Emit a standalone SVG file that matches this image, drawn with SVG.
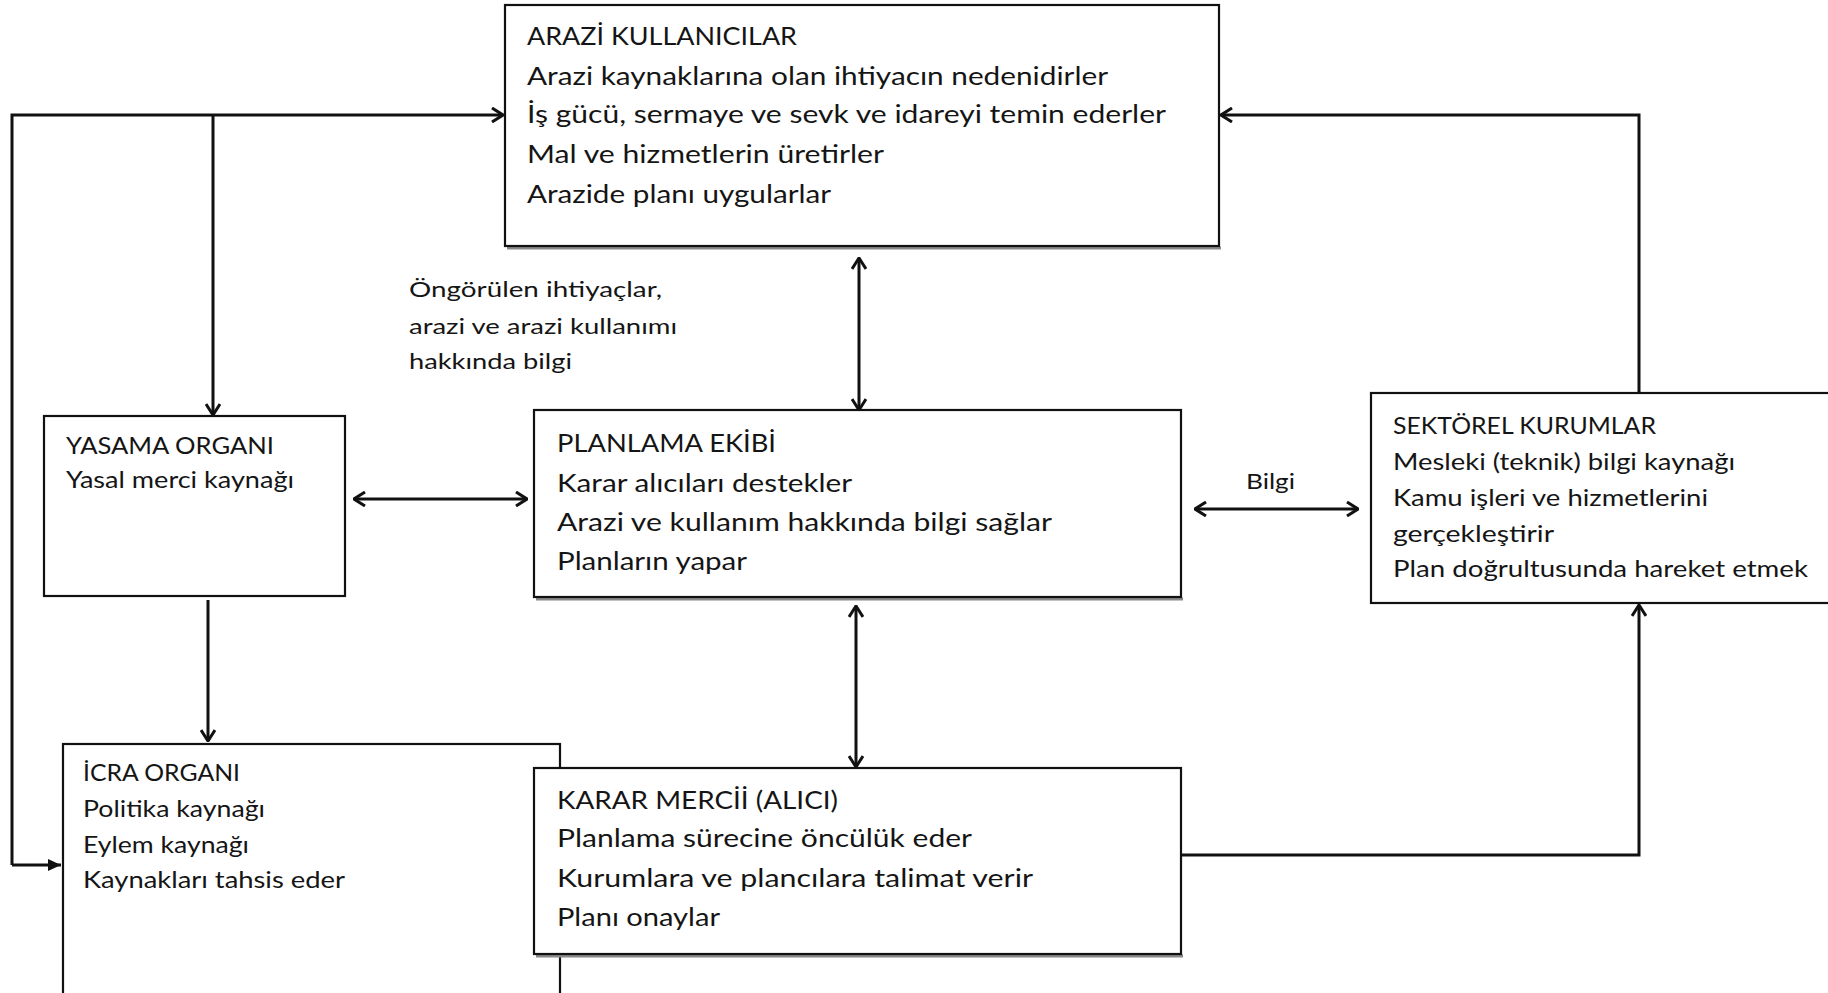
<svg xmlns="http://www.w3.org/2000/svg" width="1828" height="993" viewBox="0 0 1828 993">
<style>
.box{fill:#fff;stroke:#111;stroke-width:2.2}
.shadow{fill:none;stroke:#888;stroke-width:3}
.t{font-family:Lato,"Open Sans","DejaVu Sans",sans-serif;fill:#151515;font-size:25px}
.s{font-size:23px}
.l{font-size:22px}
.c{fill:none;stroke:#111;stroke-width:3}
</style>
<defs>
<marker id="ah" viewBox="0 0 14 16" refX="13" refY="8" markerWidth="14" markerHeight="16" markerUnits="userSpaceOnUse" orient="auto-start-reverse">
<path d="M2,1 L13,8 L2,15" fill="none" stroke="#111" stroke-width="3"/>
</marker>
<marker id="af" viewBox="0 0 14 14" refX="13" refY="7" markerWidth="14" markerHeight="14" markerUnits="userSpaceOnUse" orient="auto">
<path d="M0,1 L13,7 L0,13 Z" fill="#111"/>
</marker>
</defs>
<rect width="1828" height="993" fill="#fff"/>

<g id="connectors">
<path class="c" d="M12,865 L12,115 L503,115" marker-end="url(#ah)"/>
<path class="c" d="M12,865 L61,865" marker-end="url(#af)"/>
<path class="c" d="M213,115 L213,415" marker-end="url(#ah)"/>
<path class="c" d="M208,600 L208,741" marker-end="url(#ah)"/>
<path class="c" d="M354,499 L527,499" marker-start="url(#ah)" marker-end="url(#ah)"/>
<path class="c" d="M859,258 L859,410" marker-start="url(#ah)" marker-end="url(#ah)"/>
<path class="c" d="M856,606 L856,767" marker-start="url(#ah)" marker-end="url(#ah)"/>
<path class="c" d="M1195,509 L1358,509" marker-start="url(#ah)" marker-end="url(#ah)"/>
<path class="c" d="M1639,393 L1639,115 L1221,115" marker-end="url(#ah)"/>
<path class="c" d="M1181,855 L1639,855 L1639,605" marker-end="url(#ah)"/>
<text class="t l" x="1246" y="489" textLength="49" lengthAdjust="spacingAndGlyphs">Bilgi</text>
<g id="label-ongorulen">
<text class="t l" x="409" y="297" textLength="253" lengthAdjust="spacingAndGlyphs">Öngörülen ihtiyaçlar,</text>
<text class="t l" x="409" y="334" textLength="268" lengthAdjust="spacingAndGlyphs">arazi ve arazi kullanımı</text>
<text class="t l" x="409" y="369" textLength="163" lengthAdjust="spacingAndGlyphs">hakkında bilgi</text>
</g>
</g>

<g id="arazi">
<line class="shadow" x1="507" y1="248" x2="1221" y2="248"/>
<rect class="box" x="505" y="5" width="714" height="241"/>
<text class="t" x="527" y="45" textLength="270" lengthAdjust="spacingAndGlyphs">ARAZİ KULLANICILAR</text>
<text class="t" x="527" y="85" textLength="581" lengthAdjust="spacingAndGlyphs">Arazi kaynaklarına  olan ihtiyacın nedenidirler</text>
<text class="t" x="527" y="123" textLength="639" lengthAdjust="spacingAndGlyphs">İş gücü, sermaye ve sevk ve idareyi temin ederler</text>
<text class="t" x="527" y="163" textLength="357" lengthAdjust="spacingAndGlyphs">Mal ve hizmetlerin üretirler</text>
<text class="t" x="527" y="203" textLength="304" lengthAdjust="spacingAndGlyphs">Arazide planı uygularlar</text>
</g>

<g id="yasama">
<rect class="box" x="44" y="416" width="301" height="180"/>
<text class="t s" x="66" y="454" textLength="208" lengthAdjust="spacingAndGlyphs">YASAMA ORGANI</text>
<text class="t s" x="66" y="488" textLength="228" lengthAdjust="spacingAndGlyphs">Yasal merci kaynağı</text>
</g>

<g id="planlama">
<line class="shadow" x1="536" y1="599" x2="1183" y2="599"/>
<rect class="box" x="534" y="410" width="647" height="187"/>
<text class="t" x="557" y="452" textLength="219" lengthAdjust="spacingAndGlyphs">PLANLAMA EKİBİ</text>
<text class="t" x="557" y="492" textLength="295" lengthAdjust="spacingAndGlyphs">Karar alıcıları destekler</text>
<text class="t" x="557" y="531" textLength="495" lengthAdjust="spacingAndGlyphs">Arazi ve kullanım  hakkında  bilgi sağlar</text>
<text class="t" x="557" y="570" textLength="190" lengthAdjust="spacingAndGlyphs">Planların yapar</text>
</g>

<g id="sektorel">
<rect class="box" x="1371" y="393" width="470" height="210"/>
<text class="t s" x="1393" y="434" textLength="263" lengthAdjust="spacingAndGlyphs">SEKTÖREL KURUMLAR</text>
<text class="t s" x="1393" y="470" textLength="342" lengthAdjust="spacingAndGlyphs">Mesleki (teknik) bilgi kaynağı</text>
<text class="t s" x="1393" y="506" textLength="315" lengthAdjust="spacingAndGlyphs">Kamu işleri ve hizmetlerini</text>
<text class="t s" x="1393" y="542" textLength="161" lengthAdjust="spacingAndGlyphs">gerçekleştirir</text>
<text class="t s" x="1393" y="577" textLength="415" lengthAdjust="spacingAndGlyphs">Plan doğrultusunda hareket etmek</text>
</g>

<g id="icra">
<rect class="box" x="63" y="744" width="497" height="270"/>
<text class="t s" x="83" y="781" textLength="157" lengthAdjust="spacingAndGlyphs">İCRA ORGANI</text>
<text class="t s" x="83" y="817" textLength="182" lengthAdjust="spacingAndGlyphs">Politika kaynağı</text>
<text class="t s" x="83" y="853" textLength="166" lengthAdjust="spacingAndGlyphs">Eylem kaynağı</text>
<text class="t s" x="83" y="888" textLength="262" lengthAdjust="spacingAndGlyphs">Kaynakları tahsis eder</text>
</g>

<g id="karar">
<line class="shadow" x1="536" y1="956" x2="1183" y2="956"/>
<rect class="box" x="534" y="768" width="647" height="186"/>
<text class="t" x="557" y="809" textLength="281" lengthAdjust="spacingAndGlyphs">KARAR MERCİİ (ALICI)</text>
<text class="t" x="557" y="847" textLength="415" lengthAdjust="spacingAndGlyphs">Planlama sürecine öncülük  eder</text>
<text class="t" x="557" y="887" textLength="476" lengthAdjust="spacingAndGlyphs">Kurumlara ve plancılara  talimat verir</text>
<text class="t" x="557" y="926" textLength="163" lengthAdjust="spacingAndGlyphs">Planı onaylar</text>
</g>
</svg>
